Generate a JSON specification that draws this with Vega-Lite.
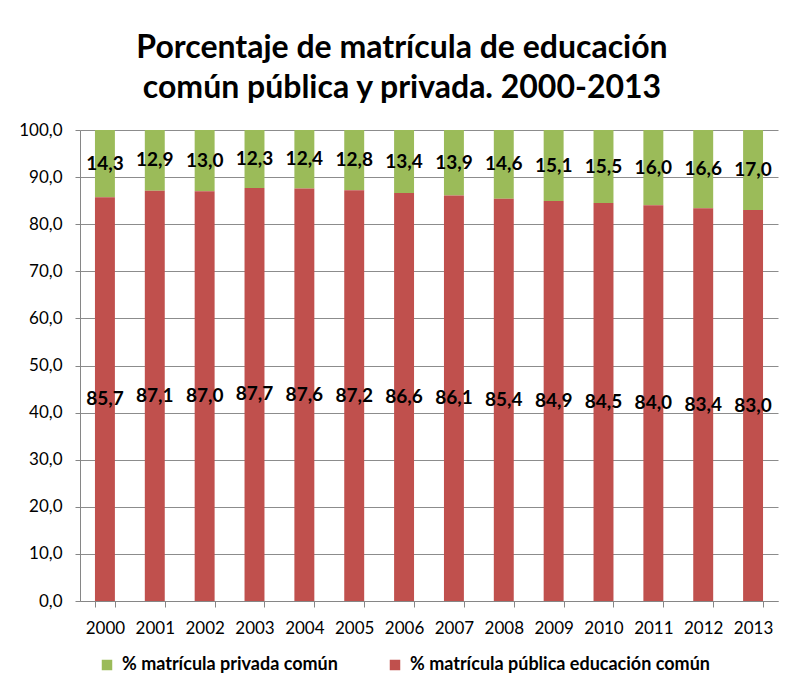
{
  "$schema": "https://vega.github.io/schema/vega-lite/v6.json",
  "width": 698,
  "height": 471,
  "autosize": {"type": "none"},
  "padding": {"left": 80, "top": 130, "right": 9, "bottom": 90},
  "background": "white",
  "config": {
    "locale": {"number": {"decimal": ",", "thousands": ".", "grouping": [3], "currency": ["", " €"]}},
    "font": "Lato",
    "view": {"stroke": null}
  },
  "title": {
    "text": ["Porcentaje de matrícula de educación", "común pública y privada. 2000-2013"],
    "fontSize": 32,
    "fontWeight": "bold",
    "font": "Lato",
    "anchor": "middle",
    "frame": "group",
    "dx": -27,
    "lineHeight": 40,
    "offset": 16,
    "color": "#000"
  },
  "data": {
    "values": [
      {"year": "2000", "tipo": "% matrícula privada común", "value": 14.3},
      {"year": "2001", "tipo": "% matrícula privada común", "value": 12.9},
      {"year": "2002", "tipo": "% matrícula privada común", "value": 13.0},
      {"year": "2003", "tipo": "% matrícula privada común", "value": 12.3},
      {"year": "2004", "tipo": "% matrícula privada común", "value": 12.4},
      {"year": "2005", "tipo": "% matrícula privada común", "value": 12.8},
      {"year": "2006", "tipo": "% matrícula privada común", "value": 13.4},
      {"year": "2007", "tipo": "% matrícula privada común", "value": 13.9},
      {"year": "2008", "tipo": "% matrícula privada común", "value": 14.6},
      {"year": "2009", "tipo": "% matrícula privada común", "value": 15.1},
      {"year": "2010", "tipo": "% matrícula privada común", "value": 15.5},
      {"year": "2011", "tipo": "% matrícula privada común", "value": 16.0},
      {"year": "2012", "tipo": "% matrícula privada común", "value": 16.6},
      {"year": "2013", "tipo": "% matrícula privada común", "value": 17.0},
      {"year": "2000", "tipo": "% matrícula pública educación común", "value": 85.7},
      {"year": "2001", "tipo": "% matrícula pública educación común", "value": 87.1},
      {"year": "2002", "tipo": "% matrícula pública educación común", "value": 87.0},
      {"year": "2003", "tipo": "% matrícula pública educación común", "value": 87.7},
      {"year": "2004", "tipo": "% matrícula pública educación común", "value": 87.6},
      {"year": "2005", "tipo": "% matrícula pública educación común", "value": 87.2},
      {"year": "2006", "tipo": "% matrícula pública educación común", "value": 86.6},
      {"year": "2007", "tipo": "% matrícula pública educación común", "value": 86.1},
      {"year": "2008", "tipo": "% matrícula pública educación común", "value": 85.4},
      {"year": "2009", "tipo": "% matrícula pública educación común", "value": 84.9},
      {"year": "2010", "tipo": "% matrícula pública educación común", "value": 84.5},
      {"year": "2011", "tipo": "% matrícula pública educación común", "value": 84.0},
      {"year": "2012", "tipo": "% matrícula pública educación común", "value": 83.4},
      {"year": "2013", "tipo": "% matrícula pública educación común", "value": 83.0}
    ]
  },
  "encoding": {
    "x": {
      "field": "year",
      "type": "ordinal",
      "scale": {"paddingInner": 0.6, "paddingOuter": 0.3},
      "axis": {
        "title": null,
        "labelAngle": 0,
        "tickBand": "extent",
        "grid": false,
        "domainColor": "#868686",
        "tickColor": "#868686",
        "tickSize": 6,
        "labelFontSize": 17,
        "labelPadding": 13,
        "labelColor": "#000"
      }
    }
  },
  "layer": [
    {
      "mark": {"type": "bar"},
      "encoding": {
        "y": {
          "field": "value",
          "type": "quantitative",
          "stack": "zero",
          "scale": {"domain": [0, 100], "nice": false},
          "axis": {
            "title": null,
            "values": [0, 10, 20, 30, 40, 50, 60, 70, 80, 90, 100],
            "format": ".1f",
            "grid": true,
            "gridColor": "#8c8c8c",
            "domainColor": "#868686",
            "tickColor": "#868686",
            "tickSize": 5,
            "labelFontSize": 17,
            "labelPadding": 13,
            "labelColor": "#000"
          }
        },
        "color": {
          "field": "tipo",
          "type": "nominal",
          "scale": {
            "domain": ["% matrícula privada común", "% matrícula pública educación común"],
            "range": ["#9BBB59", "#C0504D"]
          },
          "legend": {
            "title": null,
            "orient": "none",
            "legendX": 18,
            "legendY": 526,
            "direction": "horizontal",
            "symbolType": "square",
            "symbolSize": 110,
            "symbolStrokeWidth": 0,
            "labelFontSize": 18,
            "labelFontWeight": "bold",
            "labelColor": "#000",
            "labelLimit": 500,
            "labelOffset": 6,
            "columnPadding": 48
          }
        },
        "order": {"field": "tipo", "sort": "descending"}
      }
    },
    {
      "transform": [
        {"stack": "value", "groupby": ["year"], "sort": [{"field": "tipo", "order": "descending"}], "as": ["v0", "v1"]},
        {"calculate": "(datum.v0 + datum.v1) / 2", "as": "mid"}
      ],
      "mark": {"type": "text", "fontWeight": "bold", "fontSize": 19, "color": "#000"},
      "encoding": {
        "y": {"field": "mid", "type": "quantitative", "title": null},
        "text": {"field": "value", "type": "quantitative", "format": ".1f"}
      }
    }
  ]
}
